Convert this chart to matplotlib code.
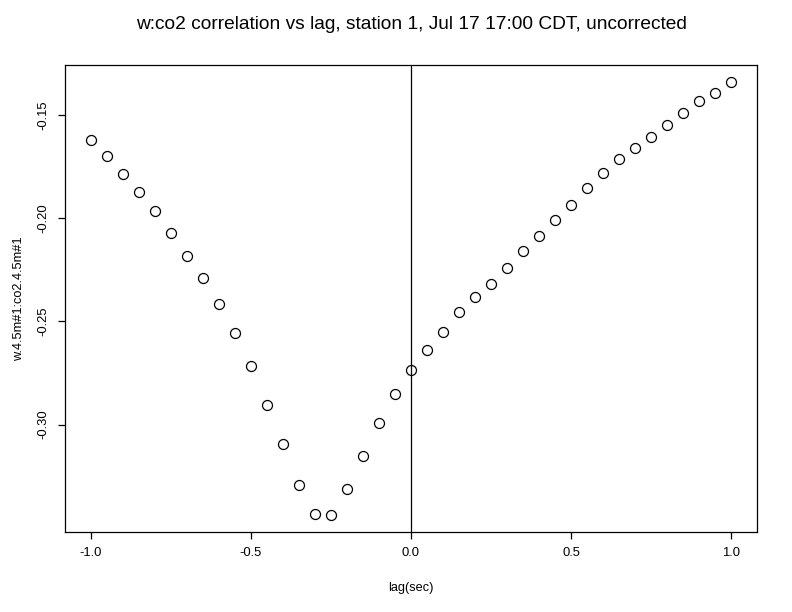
import matplotlib.pyplot as plt

lag = [-1.00, -0.95, -0.90, -0.85, -0.80, -0.75, -0.70, -0.65, -0.60, -0.55,
       -0.50, -0.45, -0.40, -0.35, -0.30, -0.25, -0.20, -0.15, -0.10, -0.05,
       0.00, 0.05, 0.10, 0.15, 0.20, 0.25, 0.30, 0.35, 0.40, 0.45,
       0.50, 0.55, 0.60, 0.65, 0.70, 0.75, 0.80, 0.85, 0.90, 0.95, 1.00]
corr = [-0.1621, -0.1699, -0.1786, -0.1874, -0.1966, -0.2073, -0.2180, -0.2291,
        -0.2413, -0.2558, -0.2718, -0.2903, -0.3092, -0.3291, -0.3432, -0.3437,
        -0.3311, -0.3150, -0.2990, -0.2854, -0.2733, -0.2636, -0.2549, -0.2456,
        -0.2383, -0.2320, -0.2243, -0.2160, -0.2083, -0.2010, -0.1937, -0.1854,
        -0.1782, -0.1714, -0.1660, -0.1607, -0.1549, -0.1490, -0.1432, -0.1393,
        -0.1340]

xticks = [-1.0, -0.5, 0.0, 0.5, 1.0]
yticks = [-0.30, -0.25, -0.20, -0.15]

plt.rcParams['font.family'] = ['Liberation Sans', 'DejaVu Sans']

fig = plt.figure(figsize=(7.92, 6.12), dpi=100)
ax = fig.add_axes([65 / 792, 80 / 612, 692 / 792, 467 / 612])

ax.plot(lag, corr, 'o', mfc='none', mec='black', ms=7.2, mew=0.9)
ax.axvline(0, color='black', lw=0.9)

# R style 4% padding
xr = max(lag) - min(lag)
yr = max(corr) - min(corr)
ax.set_xlim(min(lag) - 0.04 * xr, max(lag) + 0.04 * xr)
ax.set_ylim(min(corr) - 0.04 * yr, max(corr) + 0.04 * yr)

ax.set_xticks(xticks)
ax.set_xticklabels(['-1.0', '-0.5', '0.0', '0.5', '1.0'])
ax.set_yticks(yticks)
ax.set_yticklabels(['-0.30', '-0.25', '-0.20', '-0.15'], rotation=90, va='center')
ax.tick_params(direction='out', length=5, width=0.9, labelsize=9.4, pad=6)
for s in ax.spines.values():
    s.set_linewidth(0.9)

ax.set_xlabel('lag(sec)', fontsize=9.2, labelpad=16)
ax.set_ylabel('w.4.5m#1:co2.4.5m#1', fontsize=9.2, labelpad=9)
ax.set_title('w:co2 correlation vs lag, station 1, Jul 17 17:00 CDT, uncorrected',
             fontsize=13.8, pad=26)

fig.savefig('out.png', dpi=100)
